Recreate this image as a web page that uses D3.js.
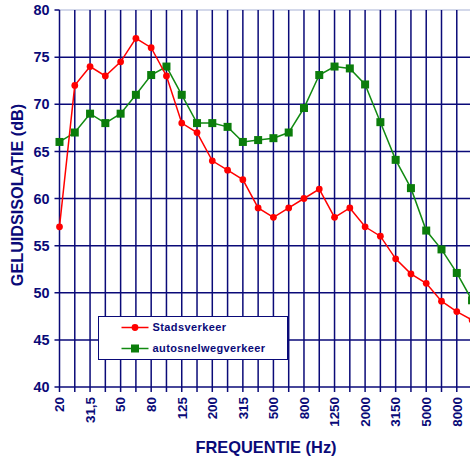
<!DOCTYPE html>
<html>
<head>
<meta charset="utf-8">
<script src="https://cdn.jsdelivr.net/npm/d3@7"></script>
<style>
  body { margin: 0; background: #fff; }
  svg { font-family: Arial, "Liberation Sans", sans-serif; }
</style>
</head>
<body>
<svg id="chart" width="470" height="461"></svg>
<script>
// 1/3-octave bands
var frequencies = ['20','25','31,5','40','50','63','80','100','125','160','200','250','315','400',
  '500','630','800','1000','1250','1600','2000','2500','3150','4000','5000','6300','8000','10000'];
var tickLabels = ['20','31,5','50','80','125','200','315','500','800','1250','2000','3150','5000','8000'];
var yTicks = [40, 45, 50, 55, 60, 65, 70, 75, 80];

var stadsverkeer = [57, 72, 74, 73, 74.5, 77, 76, 73, 68, 67, 64, 63, 62, 59,
  58, 59, 60, 61, 58, 59, 57, 56, 53.6, 52, 51, 49.1, 48, 47.1];
var autosnelweg = [66, 67, 69, 68, 69, 71, 73.1, 74, 71, 68, 68, 67.6, 66, 66.2,
  66.4, 67, 69.6, 73.1, 74, 73.8, 72.1, 68.1, 64.1, 61.1, 56.6, 54.6, 52.1, 49.2];

var navy = '#0a0a78';
var svg = d3.select('#chart');

var margin = { top: 10, left: 59.5, bottom: 74 };
var height = 461;

var x = d3.scalePoint()
  .domain(frequencies)
  .range([margin.left, margin.left + 27 * 15.28]);

var y = d3.scaleLinear()
  .domain([40, 80])
  .range([height - margin.bottom, margin.top]);

// top border line (light)
svg.append('line')
  .attr('x1', margin.left).attr('x2', 470)
  .attr('y1', y(80)).attr('y2', y(80))
  .attr('stroke', '#c5cbe3').attr('stroke-width', 1.5);

// vertical gridlines
svg.append('g')
  .selectAll('line')
  .data(frequencies)
  .enter()
  .append('line')
  .attr('x1', function(d) { return x(d); })
  .attr('x2', function(d) { return x(d); })
  .attr('y1', y(80))
  .attr('y2', y(40) + 5)
  .attr('stroke', navy)
  .attr('stroke-width', 1.5);

// horizontal gridlines
svg.append('g')
  .selectAll('line')
  .data(yTicks.filter(function(d) { return d < 80; }))
  .enter()
  .append('line')
  .attr('x1', margin.left - 5)
  .attr('x2', 470)
  .attr('y1', function(d) { return y(d); })
  .attr('y2', function(d) { return y(d); })
  .attr('stroke', navy)
  .attr('stroke-width', 1.5);

svg.append('line')
  .attr('x1', margin.left - 5).attr('x2', margin.left)
  .attr('y1', y(80)).attr('y2', y(80))
  .attr('stroke', navy).attr('stroke-width', 1.5);

// y axis labels
svg.append('g')
  .selectAll('text')
  .data(yTicks)
  .enter()
  .append('text')
  .attr('x', margin.left - 10)
  .attr('y', function(d) { return y(d); })
  .attr('dy', '0.36em')
  .attr('text-anchor', 'end')
  .attr('fill', navy)
  .attr('font-size', 14.4)
  .attr('font-weight', 'bold')
  .text(function(d) { return d; });

// x axis labels
svg.append('g')
  .selectAll('text')
  .data(tickLabels)
  .enter()
  .append('text')
  .attr('transform', function(d) { return 'translate(' + x(d) + ',' + (y(40) + 10) + ') rotate(-90)'; })
  .attr('dy', '0.36em')
  .attr('text-anchor', 'end')
  .attr('fill', navy)
  .attr('font-size', 13.4)
  .attr('font-weight', 'bold')
  .text(function(d) { return d; });

// axis titles
svg.append('text')
  .attr('x', 266).attr('y', 453)
  .attr('text-anchor', 'middle')
  .attr('fill', navy)
  .attr('font-size', 16.4)
  .attr('font-weight', 'bold')
  .text('FREQUENTIE (Hz)');

svg.append('text')
  .attr('transform', 'translate(23,195) rotate(-90)')
  .attr('text-anchor', 'middle')
  .attr('fill', navy)
  .attr('font-size', 16.2)
  .attr('font-weight', 'bold')
  .text('GELUIDSISOLATIE (dB)');

var line = d3.line()
  .x(function(d, i) { return x(frequencies[i]); })
  .y(function(d) { return y(d); });

// green series
svg.append('path')
  .datum(autosnelweg)
  .attr('d', line)
  .attr('fill', 'none')
  .attr('stroke', '#118a11')
  .attr('stroke-width', 1.5);

svg.append('g')
  .selectAll('rect')
  .data(autosnelweg)
  .enter()
  .append('rect')
  .attr('x', function(d, i) { return x(frequencies[i]) - 4; })
  .attr('y', function(d) { return y(d) - 4; })
  .attr('width', 8)
  .attr('height', 8)
  .attr('fill', '#0b7d0b');

// red series
svg.append('path')
  .datum(stadsverkeer)
  .attr('d', line)
  .attr('fill', 'none')
  .attr('stroke', '#ff0000')
  .attr('stroke-width', 1.5);

svg.append('g')
  .selectAll('path')
  .data(stadsverkeer)
  .enter()
  .append('path')
  .attr('transform', function(d, i) { return 'translate(' + x(frequencies[i]) + ',' + y(d) + ')'; })
  .attr('d', d3.symbol().type(d3.symbolCircle).size(36))
  .attr('fill', '#ff0000');

// legend
var legend = svg.append('g').attr('transform', 'translate(98.5,316.5)');
legend.append('rect')
  .attr('width', 189).attr('height', 43)
  .attr('fill', '#fff')
  .attr('stroke', navy).attr('stroke-width', 1);

var items = [
  { name: 'Stadsverkeer', color: '#ff0000', y: 11 },
  { name: 'autosnelwegverkeer', color: '#118a11', y: 32 }
];
items.forEach(function(it, i) {
  legend.append('line')
    .attr('x1', 23).attr('x2', 50)
    .attr('y1', it.y).attr('y2', it.y)
    .attr('stroke', it.color).attr('stroke-width', 1.5);
  if (i === 0) {
    legend.append('path')
      .attr('transform', 'translate(36.5,' + it.y + ')')
      .attr('d', d3.symbol().type(d3.symbolCircle).size(36))
      .attr('fill', it.color);
  } else {
    legend.append('rect')
      .attr('x', 32.5).attr('y', it.y - 4)
      .attr('width', 8).attr('height', 8)
      .attr('fill', '#0b7d0b');
  }
  legend.append('text')
    .attr('x', 54).attr('y', it.y)
    .attr('dy', '0.36em')
    .attr('fill', navy)
    .attr('font-size', 11)
    .attr('font-weight', 'bold')
    .attr('letter-spacing', 0.4)
    .text(it.name);
});
</script>
</body>
</html>
